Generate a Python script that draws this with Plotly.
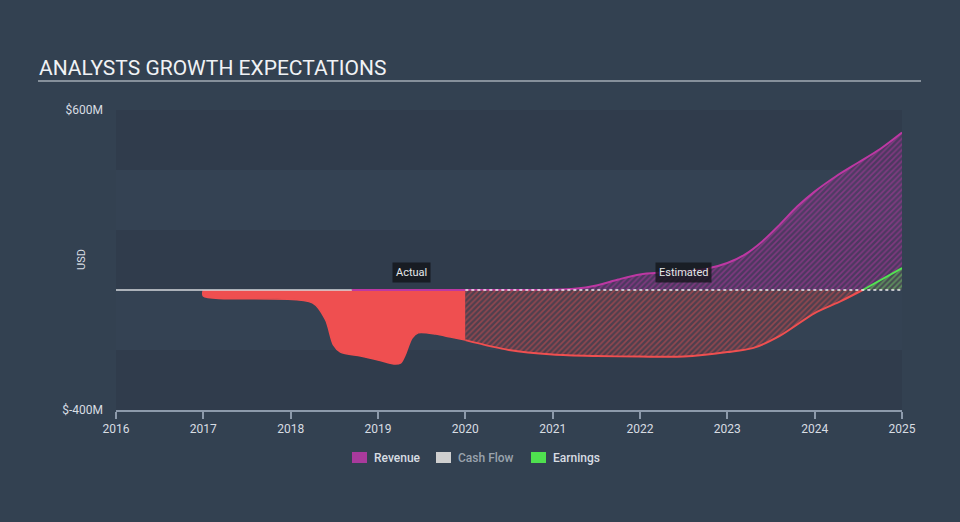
import plotly.graph_objects as go

# ---------------- data (USD millions) ----------------
earn_act_years = [2017.0, 2017.0, 2018.25, 2018.40, 2018.49, 2018.57, 2018.80, 2019.0, 2019.20, 2019.26,
                  2019.31, 2019.39, 2019.46, 2019.66, 2019.83, 2020.0]
earn_act_vals = [0, -20, -43, -100, -183, -207, -220, -233, -247, -243,
                 -217, -160, -143, -147, -157, -167]

earn_est_years = [2020.0, 2020.5, 2021.0, 2021.5, 2022.0, 2022.5, 2023.0, 2023.3, 2023.6, 2024.0,
                  2024.3, 2024.55, 2025.0]
earn_est_vals = [-167, -200, -215, -220, -222, -222, -207, -193, -153, -77,
                 -37, 0, 73]

rev_act_years = [2018.7, 2019.0, 2019.5, 2020.0]
rev_act_vals = [0, 0, 0, 0]

rev_est_years = [2020.0, 2020.5, 2021.0, 2021.25, 2021.5, 2021.75, 2022.0, 2022.25, 2022.5, 2022.75,
                 2023.0, 2023.2, 2023.4, 2023.6, 2023.8, 2024.0, 2024.25, 2024.5, 2024.75, 2025.0]
rev_est_vals = [0, 0, 1, 4, 15, 35, 52, 58, 62, 70,
                90, 118, 162, 218, 278, 328, 380, 425, 470, 525]

year_ticks = [2016, 2017, 2018, 2019, 2020, 2021, 2022, 2023, 2024, 2025]
y_ticks = [600, -400]
y_tick_labels = ["$600M", "$-400M"]

# ---------------- colours ----------------
BG = "#334151"
BAND_DARK = "#303c4c"
BAND_LIGHT = "#344253"
RED = "#ef4f50"
MAG = "#bd38a3"
GREEN = "#52e452"
TXT = "#d8dde3"

# split estimated earnings into negative and positive parts
neg_years = [y for y, v in zip(earn_est_years, earn_est_vals) if v <= 0]
neg_vals = [v for v in earn_est_vals if v <= 0]
pos_years = [y for y, v in zip(earn_est_years, earn_est_vals) if v >= 0]
pos_vals = [v for v in earn_est_vals if v >= 0]

SPL = dict(shape="spline", smoothing=0.8)

fig = go.Figure()

# revenue estimated (hatched)
fig.add_trace(go.Scatter(
    x=rev_est_years, y=rev_est_vals, mode="lines", fill="tozeroy",
    line=dict(color=MAG, width=2, **SPL),
    fillcolor="rgba(0,0,0,0)",
    fillpattern=dict(shape="/", fgcolor="rgba(190,56,165,0.9)", bgcolor="rgba(110,50,120,0.45)",
                     size=4, solidity=0.4),
    hoverinfo="skip", showlegend=False))

# earnings actual (solid fill)
fig.add_trace(go.Scatter(
    x=earn_act_years, y=earn_act_vals, mode="lines", fill="tozeroy",
    line=dict(color=RED, width=1.5, **SPL),
    fillcolor=RED, hoverinfo="skip", showlegend=False))

# earnings estimated negative (hatched)
fig.add_trace(go.Scatter(
    x=neg_years, y=neg_vals, mode="lines", fill="tozeroy",
    line=dict(color=RED, width=2, **SPL),
    fillcolor="rgba(0,0,0,0)",
    fillpattern=dict(shape="/", fgcolor="rgba(239,79,80,0.85)", bgcolor="rgba(110,60,70,0.45)",
                     size=4, solidity=0.4),
    hoverinfo="skip", showlegend=False))

# earnings estimated positive (green hatched)
fig.add_trace(go.Scatter(
    x=pos_years, y=pos_vals, mode="lines", fill="tozeroy",
    line=dict(color=GREEN, width=2),
    fillcolor="rgba(0,0,0,0)",
    fillpattern=dict(shape="/", fgcolor="rgba(82,228,82,0.9)", bgcolor="rgba(60,110,60,0.4)",
                     size=4, solidity=0.4),
    hoverinfo="skip", showlegend=False))

# revenue actual (on top of earnings fill)
fig.add_trace(go.Scatter(
    x=rev_act_years, y=rev_act_vals, mode="lines",
    line=dict(color=MAG, width=2), hoverinfo="skip", showlegend=False))

shapes = []
# background bands
band_edges = [(-400, -200, BAND_DARK), (-200, 0, BAND_LIGHT), (0, 200, BAND_DARK),
              (200, 400, BAND_LIGHT), (400, 600, BAND_DARK)]
for y0, y1, c in band_edges:
    shapes.append(dict(type="rect", xref="x", yref="y", x0=2016, x1=2025, y0=y0, y1=y1,
                       fillcolor=c, line=dict(width=0), layer="below"))
# zero line: solid (actual) then dotted (estimated)
shapes.append(dict(type="line", xref="x", yref="y", x0=2016, x1=2018.7, y0=0, y1=0,
                   line=dict(color="#d5d8dc", width=1.5), layer="above"))
shapes.append(dict(type="line", xref="x", yref="y", x0=2020, x1=2025, y0=0, y1=0,
                   line=dict(color="#ecebf0", width=1.5, dash="dot"), layer="above"))

W, H = 960, 522
L, R, T, B = 116, 58, 110, 112
PW, PH = W - L - R, H - T - B


def px(x):
    return (x - L) / PW


def py(y):
    return (H - B - y) / PH


# title underline
shapes.append(dict(type="line", xref="paper", yref="paper", x0=px(38), x1=px(921), y0=py(81), y1=py(81),
                   line=dict(color="#a3abb5", width=1.5)))

# legend squares
legend_items = [("Revenue", "#a93a9c", TXT, 352), ("Cash Flow", "#cfcfcf", "#9aa3ad", 436),
                ("Earnings", "#4fe04f", TXT, 531)]
annotations = []
for name, c, tc, x0 in legend_items:
    shapes.append(dict(type="rect", xref="paper", yref="paper", x0=px(x0), x1=px(x0 + 15),
                       y0=py(463), y1=py(452), fillcolor=c, line=dict(width=0)))
    annotations.append(dict(xref="paper", yref="paper", x=px(x0 + 20), y=py(458), text=name,
                            showarrow=False, xanchor="left", yanchor="middle",
                            font=dict(family="Roboto", size=12, color=tc, weight=500)))

# title
annotations.append(dict(xref="paper", yref="paper", x=px(37), y=py(68), text="ANALYSTS GROWTH EXPECTATIONS",
                        showarrow=False, xanchor="left", yanchor="middle",
                        font=dict(family="Roboto", size=21, color="#f0f2f5")))
# USD axis label
annotations.append(dict(xref="paper", yref="paper", x=px(81), y=py(260), text="USD", textangle=-90,
                        showarrow=False, xanchor="center", yanchor="middle",
                        font=dict(family="Roboto", size=11, color=TXT)))
# Actual / Estimated tags
annotations.append(dict(xref="x", yref="y", x=2019.38, y=60, text="Actual", showarrow=False,
                        bgcolor="rgba(20,22,28,0.85)", borderpad=3,
                        font=dict(family="Roboto", size=11, color="#e6e8ea")))
annotations.append(dict(xref="x", yref="y", x=2022.5, y=60, text="Estimated", showarrow=False,
                        bgcolor="rgba(20,22,28,0.8)", borderpad=3,
                        font=dict(family="Roboto", size=11, color="#e6e8ea")))

fig.update_layout(
    width=W, height=H,
    margin=dict(l=L, r=R, t=T, b=B),
    paper_bgcolor=BG, plot_bgcolor=BG,
    showlegend=False,
    shapes=shapes, annotations=annotations,
    font=dict(family="Roboto", color=TXT, size=12),
    xaxis=dict(range=[2016, 2025], tickvals=year_ticks, ticktext=[str(t) for t in year_ticks],
               showgrid=False, zeroline=False, showline=True, linecolor="#8d9aab", linewidth=1.5,
               ticks="outside", ticklen=7, tickcolor="#8d9aab", tickwidth=1.5,
               tickfont=dict(family="Roboto", size=12, color=TXT)),
    yaxis=dict(range=[-400, 600], tickvals=y_ticks, ticktext=y_tick_labels,
               showgrid=False, zeroline=False, showline=False, ticks="", ticklabelstandoff=12,
               tickfont=dict(family="Roboto", size=12, color=TXT)),
)

fig.write_html("out.html")
